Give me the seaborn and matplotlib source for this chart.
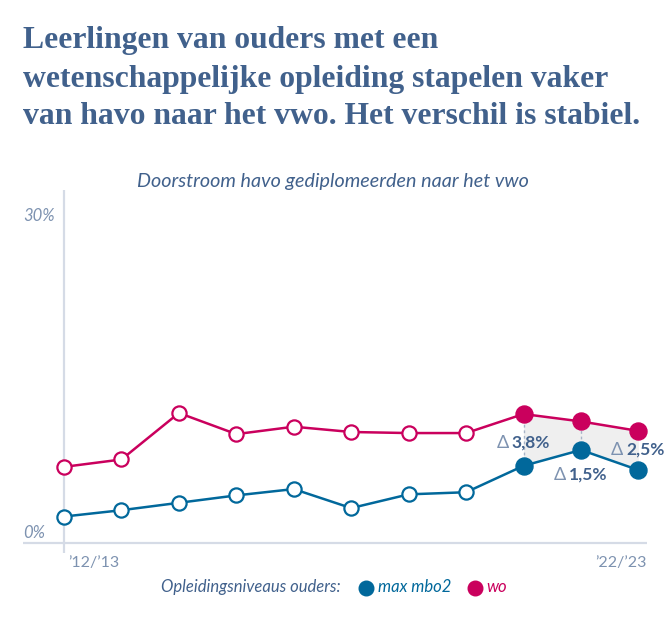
import numpy as np
import pandas as pd
import matplotlib.pyplot as plt
import seaborn as sns
from matplotlib.lines import Line2D
from matplotlib.transforms import blended_transform_factory

# school years (only first and last are labelled)
school_years = ["’12/’13", "’13/’14", "’14/’15", "’15/’16", "’16/’17", "’17/’18",
                "’18/’19", "’19/’20", "’20/’21", "’21/’22", "’22/’23"]
# doorstroom havo -> vwo, percent
mbo2 = [2.5, 3.1, 3.8, 4.5, 5.1, 3.3, 4.6, 4.8, 7.3, 8.8, 6.9]
wo = [7.2, 7.9, 12.3, 10.3, 11.0, 10.5, 10.4, 10.4, 12.2, 11.5, 10.6]
series_names = ["max mbo2", "wo"]
delta_labels = ["3,8%", "1,5%", "2,5%"]
y_ticks = [0, 30]

BLUE = "#01689b"
PINK = "#ca005d"
DARK = "#41618c"
LIGHT = "#7d92b0"
AXIS = "#d5dbe6"

sns.set_theme(style="white")
plt.rcParams["font.family"] = ["Lato", "DejaVu Sans"]

df = pd.DataFrame({
    "idx": list(range(len(school_years))) * 2,
    "waarde": mbo2 + wo,
    "niveau": [series_names[0]] * len(mbo2) + [series_names[1]] * len(wo),
})
df["gevuld"] = df["idx"] >= 8

W, H = 670, 621
fig = plt.figure(figsize=(W / 100, H / 100), dpi=100)


def fx(x):
    return x / W


def fy(y):
    return 1 - y / H


ax = fig.add_axes([fx(23), fy(553), 624 / W, 363 / H])
ax.set_xlim(-0.714, 10.15)
ax.set_ylim(-0.95, 33.4)
for s in ax.spines.values():
    s.set_visible(False)
ax.set_xticks([])
ax.set_yticks([])

ax.axvline(0, color=AXIS, lw=1.6, zorder=0)
ax.axhline(0, color=AXIS, lw=1.6, zorder=0)

# shaded gap for the last three years
xs = np.arange(len(school_years))
ax.fill_between(xs[8:], np.array(mbo2[8:]), np.array(wo[8:]), color="#efefef", lw=0, zorder=0.5)
ax.vlines(xs[8:10], np.array(mbo2[8:10]), np.array(wo[8:10]), colors="#a7b3c7",
          linestyles=(0, (2, 2)), lw=1, zorder=0.6)

pal = {series_names[0]: BLUE, series_names[1]: PINK}
sns.lineplot(data=df, x="idx", y="waarde", hue="niveau", palette=pal, lw=1.8,
             legend=False, ax=ax, zorder=2)

for name, col in pal.items():
    sub = df[df["niveau"] == name]
    sns.scatterplot(data=sub[~sub["gevuld"]], x="idx", y="waarde", color="white",
                    edgecolor=col, linewidth=1.6, s=105, ax=ax, zorder=3, legend=False)
    sns.scatterplot(data=sub[sub["gevuld"]], x="idx", y="waarde", color=col,
                    edgecolor=col, linewidth=1, s=150, ax=ax, zorder=3, legend=False)
ax.set_xlabel("")
ax.set_ylabel("")

# y labels above their line
tr = blended_transform_factory(ax.transAxes, ax.transData)
for t in y_ticks:
    ax.text(0, t + 0.47, f"{t}%", transform=tr, ha="left", va="baseline",
            fontsize=12, style="italic", color=LIGHT)

# delta annotations
delta_pos = [(8, 9.46), (9, 6.43), (10, 8.8)]
for (i, yv), lab in zip(delta_pos, delta_labels):
    ax.annotate("Δ", xy=(i, yv), xytext=(-15, 0), textcoords="offset pixels",
                ha="right", va="center", fontsize=13, color=LIGHT, zorder=5)
    ax.annotate(lab, xy=(i, yv), xytext=(-12, 0), textcoords="offset pixels",
                ha="left", va="center", fontsize=12.5, fontweight="bold", color=DARK, zorder=5)

# x labels
fig.text(fx(68), fy(567), school_years[0], ha="left", va="baseline", fontsize=11.5, color=LIGHT)
fig.text(fx(647), fy(567), school_years[-1], ha="right", va="baseline", fontsize=11.5, color=LIGHT)

# title
title_lines = ["Leerlingen van ouders met een",
               "wetenschappelijke opleiding stapelen vaker",
               "van havo naar het vwo. Het verschil is stabiel."]
for line, base in zip(title_lines, [48, 87, 124]):
    fig.text(fx(23), fy(base), line, ha="left", va="baseline", fontsize=22.8,
             fontweight="bold", family="Liberation Serif", color=DARK)

fig.text(fx(333), fy(187), "Doorstroom havo gediplomeerden naar het vwo", ha="center",
         va="baseline", fontsize=14.2, style="italic", color=DARK)

# legend
fig.text(fx(161), fy(592), "Opleidingsniveaus ouders:", ha="left", va="baseline",
         fontsize=12, style="italic", color=DARK)
fig.add_artist(Line2D([fx(366)], [fy(588)], marker="o", ms=10.5, color=BLUE,
                      transform=fig.transFigure))
fig.text(fx(378), fy(592), series_names[0], ha="left", va="baseline",
         fontsize=12, style="italic", color=BLUE)
fig.add_artist(Line2D([fx(475)], [fy(588)], marker="o", ms=10.5, color=PINK,
                      transform=fig.transFigure))
fig.text(fx(486), fy(592), series_names[1], ha="left", va="baseline",
         fontsize=12, style="italic", color=PINK)

fig.savefig("out.png", dpi=100)
